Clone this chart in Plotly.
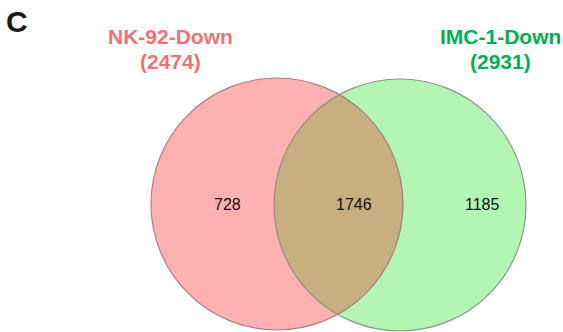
import numpy as np
import plotly.graph_objects as go

# Two-set Venn diagram of down-regulated genes
set_names = ["NK-92-Down", "IMC-1-Down"]
set_totals = [2474, 2931]
region_labels = ["only_left", "both", "only_right"]
region_counts = [728, 1746, 1185]

W, H = 563, 332
# circle geometry in pixel space
left_c = (277.0, 204.0)
right_c = (400.0, 205.0)
radius = 126.0

fill_left = "#FFB1B1"
fill_right = "#B3F6B3"
fill_both = "#C8AF80"
edge = "rgba(135,135,135,0.9)"
title_colors = ["#F07272", "#00B050"]

fig = go.Figure()


def circle_shape(c, r, fill, line_color, line_w):
    return dict(type="circle", xref="x", yref="y",
                x0=c[0] - r, x1=c[0] + r, y0=c[1] - r, y1=c[1] + r,
                fillcolor=fill, line=dict(color=line_color, width=line_w),
                layer="below")


# lens (intersection) outline from the two circles
def lens_path(c1, c2, r):
    d = np.hypot(c2[0] - c1[0], c2[1] - c1[1])
    ang12 = np.arctan2(c2[1] - c1[1], c2[0] - c1[0])
    half = np.arccos(d / (2 * r))
    # arc on circle 1 facing circle 2
    t1 = np.linspace(ang12 - half, ang12 + half, 80)
    xs1 = c1[0] + r * np.cos(t1)
    ys1 = c1[1] + r * np.sin(t1)
    # arc on circle 2 facing circle 1
    ang21 = ang12 + np.pi
    t2 = np.linspace(ang21 - half, ang21 + half, 80)
    xs2 = c2[0] + r * np.cos(t2)
    ys2 = c2[1] + r * np.sin(t2)
    xs = np.concatenate([xs1, xs2])
    ys = np.concatenate([ys1, ys2])
    pts = " L".join(f"{x:.2f},{y:.2f}" for x, y in zip(xs, ys))
    return "M" + pts + " Z"


shapes = [
    circle_shape(left_c, radius, fill_left, "rgba(0,0,0,0)", 0),
    circle_shape(right_c, radius, fill_right, "rgba(0,0,0,0)", 0),
    dict(type="path", xref="x", yref="y", path=lens_path(left_c, right_c, radius),
         fillcolor=fill_both, line=dict(width=0), layer="below"),
    circle_shape(left_c, radius, "rgba(0,0,0,0)", "rgba(160,120,120,0.9)", 1.2),
    circle_shape(right_c, radius, "rgba(0,0,0,0)", edge, 1.2),
]

annotations = []
# panel letter
annotations.append(dict(x=17, y=21, text="<b>C</b>", showarrow=False,
                        font=dict(family="Liberation Sans, Arial", size=30, color="#1a1a1a"),
                        xanchor="center", yanchor="middle"))

# set titles with totals
title_x = [170, 500]
for name, total, color, tx in zip(set_names, set_totals, title_colors, title_x):
    annotations.append(dict(x=tx, y=36, text=f"<b>{name}</b>", showarrow=False,
                            font=dict(family="Liberation Sans, Arial", size=21, color=color),
                            xanchor="center", yanchor="middle"))
    annotations.append(dict(x=tx, y=61, text=f"<b>({total})</b>", showarrow=False,
                            font=dict(family="Liberation Sans, Arial", size=21, color=color),
                            xanchor="center", yanchor="middle"))

# region counts
count_x = [227, 354, 482]
for cnt, cx in zip(region_counts, count_x):
    annotations.append(dict(x=cx, y=204, text=str(cnt), showarrow=False,
                            font=dict(family="Liberation Sans, Arial", size=16, color="#111111"),
                            xanchor="center", yanchor="middle"))

fig.update_layout(
    width=W, height=H,
    margin=dict(l=0, r=0, t=0, b=0),
    paper_bgcolor="white", plot_bgcolor="white",
    xaxis=dict(range=[0, W], visible=False, fixedrange=True),
    yaxis=dict(range=[H, 0], visible=False, fixedrange=True),
    shapes=shapes, annotations=annotations,
    showlegend=False,
)

fig.write_html("out.html")
